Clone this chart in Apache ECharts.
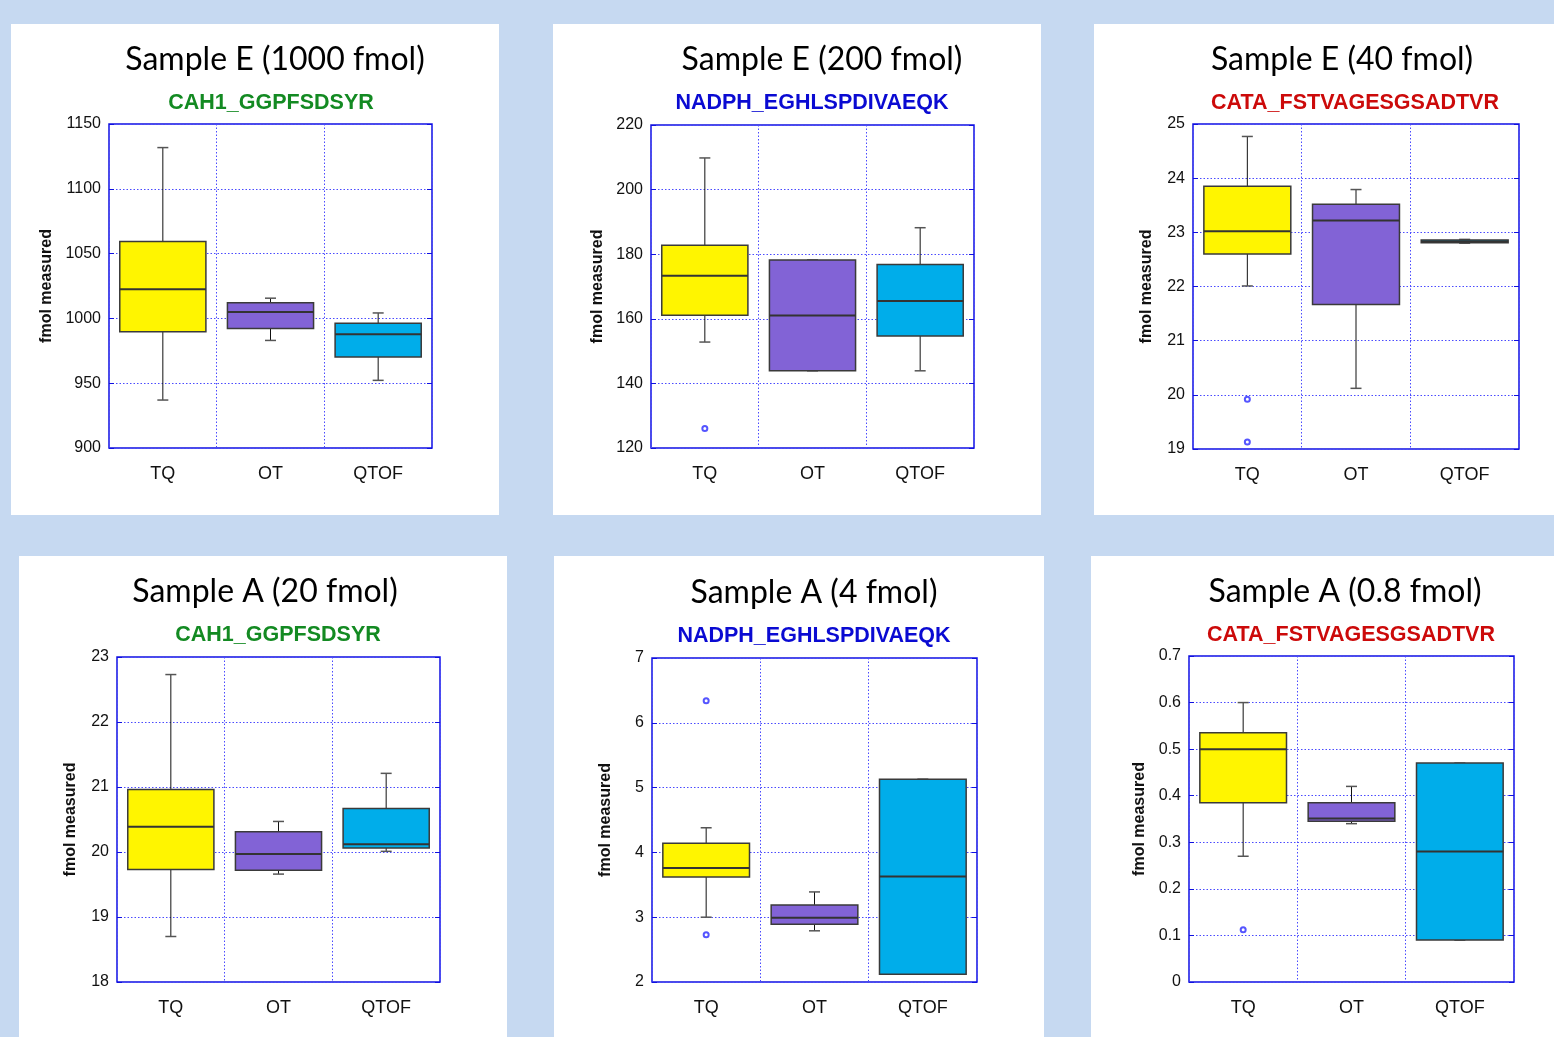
<!DOCTYPE html>
<html>
<head>
<meta charset="utf-8">
<title>fmol measured box plots</title>
<script src="https://cdn.jsdelivr.net/npm/echarts@6/dist/echarts.min.js"></script>
<style>
html, body { margin: 0; padding: 0; }
body { width: 1554px; height: 1037px; background: #c6d9f1; position: relative; overflow: hidden; }
.panel { position: absolute; background: #fff; }
</style>
</head>
<body>
<div class="panel" id="p0" style="left:11px;top:24px;width:488px;height:491px"></div>
<div class="panel" id="p1" style="left:553px;top:24px;width:488px;height:491px"></div>
<div class="panel" id="p2" style="left:1094px;top:24px;width:460px;height:491px"></div>
<div class="panel" id="p3" style="left:19px;top:556px;width:488px;height:481px"></div>
<div class="panel" id="p4" style="left:554px;top:556px;width:490px;height:481px"></div>
<div class="panel" id="p5" style="left:1091px;top:556px;width:463px;height:481px"></div>

<script>
const categories = ['TQ', 'OT', 'QTOF'];

const titles = ['Sample E (1000 fmol)', 'Sample E (200 fmol)', 'Sample E (40 fmol)',
                'Sample A (20 fmol)', 'Sample A (4 fmol)', 'Sample A (0.8 fmol)'];
const peptides = ['CAH1_GGPFSDSYR', 'NADPH_EGHLSPDIVAEQK', 'CATA_FSTVAGESGSADTVR',
                  'CAH1_GGPFSDSYR', 'NADPH_EGHLSPDIVAEQK', 'CATA_FSTVAGESGSADTVR'];

// y axis range per panel
const yMin = [900, 120, 19, 18, 2, 0];
const yMax = [1150, 220, 25, 23, 7, 0.7];
const yStep = [50, 20, 1, 1, 1, 0.1];

// [min, Q1, median, Q3, max] for TQ, OT, QTOF
const boxE1000 = [[937, 989.7, 1022.4, 1059.3, 1131.8], [983, 992.3, 1005, 1012, 1015.6], [952.2, 970.2, 987.8, 996.2, 1004.2]];
const boxE200 = [[152.8, 161.1, 173.3, 182.8, 209.8], [143.9, 143.9, 161, 178.2, 178.2], [143.9, 154.7, 165.5, 176.8, 188.2]];
const boxE40 = [[22.01, 22.6, 23.02, 23.85, 24.77], [20.12, 21.67, 23.22, 23.52, 23.79], [22.8, 22.81, 22.83, 22.86, 22.87]];
const boxA20 = [[18.7, 19.73, 20.39, 20.96, 22.73], [19.66, 19.72, 19.97, 20.31, 20.47], [20.01, 20.06, 20.12, 20.67, 21.21]];
const boxA4 = [[3.0, 3.62, 3.76, 4.14, 4.38], [2.79, 2.89, 2.99, 3.19, 3.39], [2.12, 2.12, 3.63, 5.13, 5.13]];
const boxA08 = [[0.27, 0.385, 0.5, 0.535, 0.6], [0.34, 0.345, 0.351, 0.385, 0.42], [0.09, 0.09, 0.28, 0.47, 0.47]];

// outliers: [category index, value]
const outE1000 = [];
const outE200 = [[0, 126]];
const outE40 = [[0, 19.92], [0, 19.13]];
const outA20 = [];
const outA4 = [[0, 6.34], [0, 2.73]];
const outA08 = [[0, 0.112]];

const boxes = [boxE1000, boxE200, boxE40, boxA20, boxA4, boxA08];
const outliers = [outE1000, outE200, outE40, outA20, outA4, outA08];

const fillColors = ['#fff500', '#8263d6', '#00adea'];
const peptideColors = ['#138a22', '#0a0ad2', '#cc0a0a', '#138a22', '#0a0ad2', '#cc0a0a'];

// panel-local layout: grid [left, top, width, height], title / subtitle centres
const layout = [
    { grid: [98, 100, 323, 324], titleX: 264, subX: 260, titleY: 36, subY: 79 },
    { grid: [98, 101, 323, 323], titleX: 269, subX: 259, titleY: 36, subY: 79 },
    { grid: [99, 100, 326, 325], titleX: 248, subX: 261, titleY: 36, subY: 79 },
    { grid: [98, 101, 323, 325], titleX: 246, subX: 259, titleY: 36, subY: 79 },
    { grid: [98, 102, 325, 324], titleX: 260, subX: 260, titleY: 37, subY: 80 },
    { grid: [98, 100, 325, 326], titleX: 254, subX: 260, titleY: 36, subY: 79 }
];

const gridBlue = '#4a4aff';
const borderBlue = '#1010e0';
const dots = [1.5, 2];

function renderBox(params, api) {
    const k = api.value(0);
    const p = [1, 2, 3, 4, 5].map(d => api.coord([k, api.value(d)]));
    const cx = p[0][0];
    const bw = api.size([1, 0])[0] * 0.8;
    const cap = 5.5;
    const whisker = { stroke: '#111', lineWidth: 1 };
    const capStyle = { stroke: '#555', lineWidth: 1.5 };
    return {
        type: 'group',
        children: [
            { type: 'line', shape: { x1: cx, y1: p[0][1], x2: cx, y2: p[1][1] }, style: whisker },
            { type: 'line', shape: { x1: cx, y1: p[3][1], x2: cx, y2: p[4][1] }, style: whisker },
            { type: 'line', shape: { x1: cx - cap, y1: p[0][1], x2: cx + cap, y2: p[0][1] }, style: capStyle },
            { type: 'line', shape: { x1: cx - cap, y1: p[4][1], x2: cx + cap, y2: p[4][1] }, style: capStyle },
            {
                type: 'rect',
                shape: { x: cx - bw / 2, y: p[3][1], width: bw, height: p[1][1] - p[3][1] },
                style: { fill: fillColors[k], stroke: '#3a3a3a', lineWidth: 1.5 }
            },
            {
                type: 'line',
                shape: { x1: cx - bw / 2, y1: p[2][1], x2: cx + bw / 2, y2: p[2][1] },
                style: { stroke: '#333', lineWidth: 2 }
            }
        ]
    };
}

function buildOption(i) {
    const L = layout[i];
    const valueAxis = {
        type: 'value',
        min: yMin[i],
        max: yMax[i],
        interval: yStep[i],
        axisLine: { show: false },
        axisTick: { show: true, inside: true, length: 5, lineStyle: { color: borderBlue } }
    };
    return {
        animation: false,
        graphic: [
            {
                type: 'text', x: L.titleX, y: L.titleY,
                style: { text: titles[i], font: '32px Lato', fill: '#000', align: 'center', verticalAlign: 'middle' }
            },
            {
                type: 'text', x: L.subX, y: L.subY,
                style: { text: peptides[i], font: 'bold 21.5px "Liberation Sans"', fill: peptideColors[i], align: 'center', verticalAlign: 'middle' }
            }
        ],
        grid: {
            left: L.grid[0], top: L.grid[1], width: L.grid[2], height: L.grid[3],
            show: true, borderColor: borderBlue, borderWidth: 1.5
        },
        xAxis: {
            type: 'category',
            data: categories,
            axisLine: { show: false },
            axisTick: { show: false },
            axisLabel: { color: '#111', fontSize: 18, fontFamily: 'Liberation Sans', margin: 17 },
            splitLine: { show: true, lineStyle: { color: gridBlue, type: dots, width: 1 } }
        },
        yAxis: [
            Object.assign({}, valueAxis, {
                name: 'fmol measured',
                nameLocation: 'middle',
                nameGap: 38,
                nameTextStyle: { fontWeight: 'bold', fontSize: 16, fontFamily: 'Liberation Sans', color: '#111' },
                axisLabel: {
                    color: '#111', fontSize: 16, fontFamily: 'Liberation Sans', margin: 8,
                    formatter: v => String(+v.toFixed(2))
                },
                splitLine: { show: true, lineStyle: { color: gridBlue, type: dots, width: 1 } }
            }),
            Object.assign({}, valueAxis, {
                position: 'right',
                axisLabel: { show: false },
                splitLine: { show: false }
            })
        ],
        series: [
            {
                type: 'custom',
                renderItem: renderBox,
                encode: { x: 0, y: [1, 2, 3, 4, 5] },
                data: boxes[i].map((b, k) => [k].concat(b))
            },
            {
                type: 'scatter',
                symbol: 'emptyCircle',
                symbolSize: 5,
                itemStyle: { color: '#2a2aff', borderWidth: 1 },
                data: outliers[i]
            }
        ]
    };
}

for (let i = 0; i < 6; i++) {
    const chart = echarts.init(document.getElementById('p' + i));
    chart.setOption(buildOption(i));
}
</script>
</body>
</html>
